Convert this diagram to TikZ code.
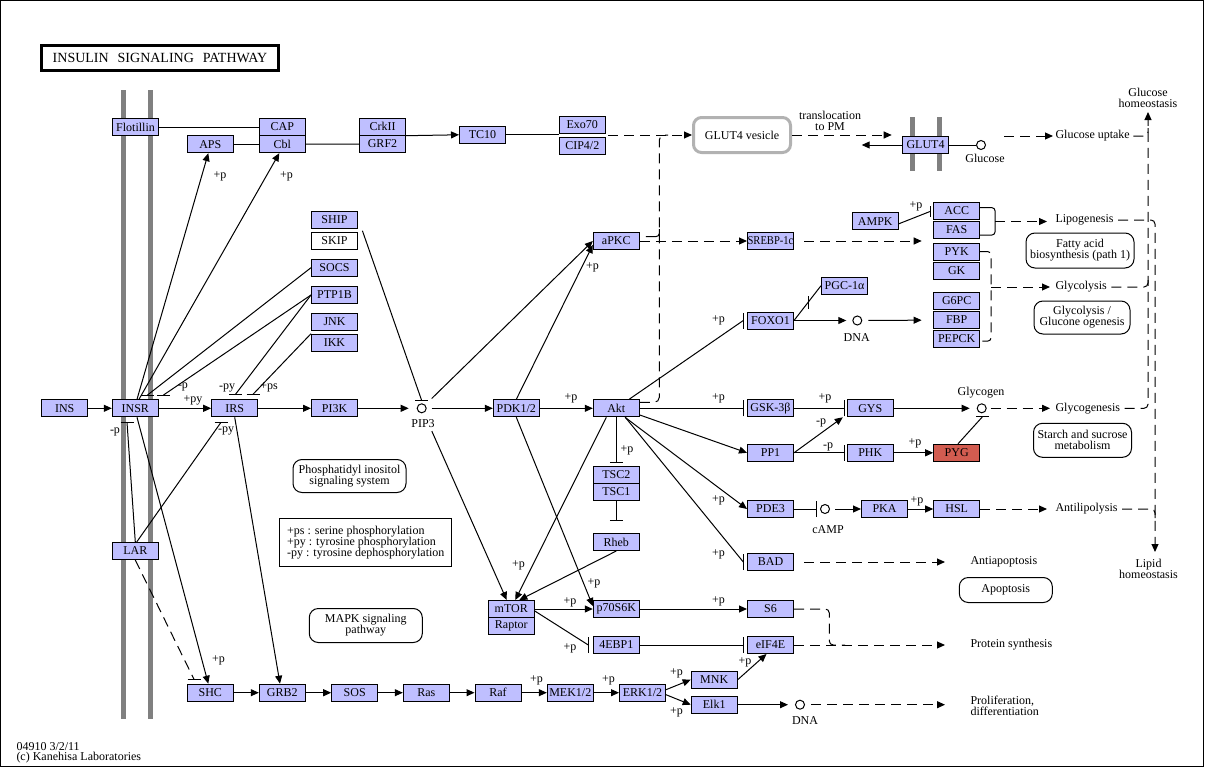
\documentclass[tikz,border=0pt]{standalone}
\usepackage{fontspec}
\usepackage{graphicx}
\setmainfont{Liberation Serif}
\usetikzlibrary{arrows.meta}
\definecolor{genefill}{RGB}{191,191,255}
\definecolor{hitfill}{RGB}{210,92,80}
\definecolor{membrane}{RGB}{128,128,128}
\definecolor{vesgray}{RGB}{178,178,178}
\tikzset{
  gene/.style={draw, fill=genefill, minimum width=46pt, minimum height=17pt, inner sep=0pt},
  cpd/.style={draw, circle, fill=white, minimum size=9pt, inner sep=0pt},
  mapbox/.style={draw, rounded corners=9pt, align=center, inner sep=0pt},
  lbl/.style={inner sep=0pt},
  act/.style={-{Triangle[length=8pt,width=7pt]}},
  dsh/.style={dash pattern=on 10pt off 6pt},
}
\newcommand{\inhh}[1]{\draw ([xshift=-6.5pt]#1) -- ([xshift=6.5pt]#1);}
\newcommand{\inhv}[1]{\draw ([yshift=-8pt]#1) -- ([yshift=8pt]#1);}
\begin{document}
\begin{tikzpicture}[x=1pt, y=-1pt, line width=1pt, font=\fontsize{12}{11}\selectfont]
   \useasboundingbox (0,0) rectangle (1205,768);
   \draw (0.5,0.5) rectangle (1203.5,766.5);
   % title
   \node[draw, line width=2.5pt, minimum width=237pt, minimum height=25pt, inner sep=0pt] (title) at (160,58) {\fontsize{14}{15}\selectfont INSULIN\hspace{9pt}SIGNALING\hspace{9pt}PATHWAY};
   % membranes
   \draw[membrane, line width=5pt] (123.5,90) -- (123.5,719);
   \draw[membrane, line width=5pt] (150.3,90) -- (150.3,719);
   \draw[membrane, line width=5pt] (912.5,117) -- (912.5,171);
   \draw[membrane, line width=5pt] (939.3,117) -- (939.3,171);
   % genes
   \node[gene] (flot) at (135.5,127) {Flotillin};
   \node[gene] (cap) at (282.3,127) {CAP};
   \node[gene] (cbl) at (282.3,144.2) {Cbl};
   \node[gene] (aps) at (210.3,144.2) {APS};
   \node[gene] (crk) at (382.5,126.7) {CrkII};
   \node[gene] (grf) at (382.5,144) {GRF2};
   \node[gene] (tc) at (482.5,134.8) {TC10};
   \node[gene] (exo) at (582.3,125) {Exo70};
   \node[gene] (cip) at (582.3,146) {CIP4/2};
   \node[gene] (glut) at (925.5,145) {GLUT4};
   \node[gene] (ship) at (334.5,220) {SHIP};
   \node[gene, fill=white] (skip) at (334.5,241) {SKIP};
   \node[gene] (socs) at (334.5,267.7) {SOCS};
   \node[gene] (ptp) at (334.5,295) {PTP1B};
   \node[gene] (jnk) at (334.5,321.7) {JNK};
   \node[gene] (ikk) at (334.5,342.7) {IKK};
   \node[gene] (ins) at (64.7,408.3) {INS};
   \node[gene] (insr) at (135.3,408.3) {INSR};
   \node[gene] (irs) at (234.7,408.3) {IRS};
   \node[gene] (pi3k) at (334.5,408.3) {PI3K};
   \node[gene] (pdk) at (516.3,408.3) {PDK1/2};
   \node[gene] (akt) at (616.3,408.3) {Akt};
   \node[gene] (apkc) at (616.3,241) {aPKC};
   \node[gene] (srebp) at (770.5,241) {\scalebox{0.88}[1]{SREBP-1c}};
   \node[gene] (foxo) at (770.5,320.5) {FOXO1};
   \node[gene] (pgc) at (844.5,285.7) {PGC-1α};
   \node[gene] (gsk) at (770.5,408.3) {GSK-3β};
   \node[gene] (gys) at (870.3,408.3) {GYS};
   \node[gene] (pp1) at (770.5,452.8) {PP1};
   \node[gene] (phk) at (870.3,452.8) {PHK};
   \node[gene, fill=hitfill] (pyg) at (956.7,452.8) {PYG};
   \node[gene] (ampk) at (875.3,221.3) {AMPK};
   \node[gene] (acc) at (956.7,211) {ACC};
   \node[gene] (fas) at (956.7,230) {FAS};
   \node[gene] (pyk) at (956.7,252) {PYK};
   \node[gene] (gk) at (956.7,270.7) {GK};
   \node[gene] (g6pc) at (956.7,301) {G6PC};
   \node[gene] (fbp) at (956.7,320) {FBP};
   \node[gene] (pepck) at (956.7,339) {PEPCK};
   \node[gene] (tsc2) at (616.3,475) {TSC2};
   \node[gene] (tsc1) at (616.3,492) {TSC1};
   \node[gene] (rheb) at (616.3,542) {Rheb};
   \node[gene] (pde3) at (770.5,509) {PDE3};
   \node[gene] (pka) at (884.5,509) {PKA};
   \node[gene] (hsl) at (956.7,509) {HSL};
   \node[gene] (bad) at (770.5,562) {BAD};
   \node[gene] (mtor) at (511.3,609) {mTOR};
   \node[gene] (raptor) at (511.3,626) {Raptor};
   \node[gene] (p70) at (616.3,609) {p70S6K};
   \node[gene] (s6) at (770.5,609) {S6};
   \node[gene] (ebp) at (616.3,645) {4EBP1};
   \node[gene] (eif) at (770.5,645) {eIF4E};
   \node[gene] (lar) at (135.3,551) {LAR};
   \node[gene] (shc) at (210.3,692.7) {SHC};
   \node[gene] (grb) at (282.3,692.7) {GRB2};
   \node[gene] (sos) at (354.7,692.7) {SOS};
   \node[gene] (ras) at (426.3,692.7) {Ras};
   \node[gene] (raf) at (498,692.7) {Raf};
   \node[gene] (mek) at (570.3,692.7) {MEK1/2};
   \node[gene] (erk) at (642.5,692.7) {ERK1/2};
   \node[gene] (mnk) at (714.2,679.7) {MNK};
   \node[gene] (elk) at (714.2,704.7) {Elk1};
   % compounds
   \node[cpd] (pip3) at (421.7,408.3) {};
   \node[cpd] (glc) at (981,145) {};
   \node[cpd] (dna1) at (857.3,320.5) {};
   \node[cpd] (glyco) at (981.7,408.3) {};
   \node[cpd] (camp) at (825,509) {};
   \node[cpd] (dna2) at (800,704.7) {};
   \node[lbl] (pip3t) at (423,424) {PIP3};
   \node[lbl] (glct) at (985,158) {Glucose};
   \node[lbl] (dna1t) at (856.7,338) {DNA};
   \node[lbl] (glycot) at (981,393) {Glycogen};
   \node[lbl] (campt) at (828,530) {cAMP};
   \node[lbl] (dna2t) at (805,721) {DNA};
   % maps
   \node[mapbox, minimum width=113pt, minimum height=33pt] (pis) at (349.5,476) {Phosphatidyl inositol\\signaling system};
   \node[mapbox, minimum width=113pt, minimum height=34pt] (mapk) at (365.8,625.5) {MAPK signaling\\pathway};
   \node[mapbox, minimum width=108pt, minimum height=35pt] (fab) at (1080,250.5) {Fatty acid\\biosynthesis (path 1)};
   \node[mapbox, minimum width=96pt, minimum height=33pt] (glyc) at (1082,317.5) {Glycolysis /\\Glucone ogenesis};
   \node[mapbox, minimum width=98pt, minimum height=34pt] (starch) at (1082.5,440.3) {Starch and sucrose\\metabolism};
   \node[mapbox, minimum width=93pt, minimum height=25pt] (apop) at (1005.8,590) {Apoptosis};
   \node[draw=vesgray, line width=3pt, rounded corners=8pt, minimum width=97pt, minimum height=35pt] (vesicle) at (742,135) {GLUT4 vesicle};
   \node[draw, align=left, minimum width=171.7pt, minimum height=47.7pt, inner sep=0pt] (legend) at (365.8,542.2) {+ps : serine phosphorylation\\+py : tyrosine phosphorylation\\-py : tyrosine dephosphorylation};
   % outcomes
   \node[lbl, align=center] (transl) at (830,121) {translocation\\to PM};
   \node[lbl, anchor=west] (uptake) at (1055,136) {Glucose uptake};
   \node[lbl, align=center] (glchomeo) at (1148,98) {Glucose\\homeostasis};
   \node[lbl, anchor=west] (lipo) at (1055,220) {Lipogenesis};
   \node[lbl, anchor=west] (glycolysis) at (1055,287) {Glycolysis};
   \node[lbl, anchor=west] (glycogenesis) at (1055,408.3) {Glycogenesis};
   \node[lbl, anchor=west] (antilip) at (1055,509) {Antilipolysis};
   \node[lbl, align=center] (lipidhomeo) at (1148.5,569) {Lipid\\homeostasis};
   \node[lbl, anchor=west] (antiapop) at (970,562) {Antiapoptosis};
   \node[lbl, anchor=west] (protsyn) at (970,645) {Protein synthesis};
   \node[lbl, anchor=west, align=left] (prolif) at (970,706) {Proliferation,\\differentiation};
   \node[lbl, anchor=west] (mapid) at (16,746.7) {04910 3/2/11};
   \node[lbl, anchor=west] (copy) at (16,757.7) {(c) Kanehisa Laboratories};
   % bar points
   \coordinate (socsbar) at (147.5,395);
   \coordinate (ptpbar) at (163.5,395);
   \coordinate (ptpirsbar) at (235.5,394.3);
   \coordinate (ikkbar) at (253,394.3);
   \coordinate (larinsrbar) at (127,422.3);
   \coordinate (larirsbar) at (221,422.3);
   \coordinate (larshcbar) at (194,679.3);
   \coordinate (pip3bar) at (421.5,400);
   \coordinate (gskbar) at (743.3,408.3);
   \coordinate (gysbar) at (844.3,408.3);
   \coordinate (phkbar) at (844.3,452.8);
   \coordinate (eifbar) at (743.3,645);
   \coordinate (campbar) at (816.7,509);
   \coordinate (foxobar) at (743.3,320.5);
   \coordinate (badbar) at (743.3,562);
   \coordinate (tscbar) at (616.3,462.7);
   \coordinate (rhebbar) at (616.3,520);
   \coordinate (ebpbar) at (588.3,645);
   \coordinate (accbar) at (930,211.5);
   \coordinate (pgcbar) at (808.3,302);
   \coordinate (glybar) at (982.5,416.7);
   \coordinate (exout) at (608,135);
   \coordinate (glutin) at (891.7,135);
   \coordinate (glutout) at (861.7,145);
   \coordinate (uptakein) at (1004,136);
   \coordinate (srebpgrp) at (921.7,241);
   \coordinate (lipojoin) at (995,221.5);
   \coordinate (glyjoin) at (991,287);
   % receptor row
   \draw[act] (ins) -- (insr);
   \draw[act] (insr) -- (irs);
   \draw[act] (irs) -- (pi3k);
   \draw[act, shorten >=8pt] (pi3k) -- (pip3);
   \draw[act, shorten <=5pt] (pip3) -- (pdk);
   \draw[act] (pdk) -- (akt);
   \draw[act] ([xshift=1.7pt]insr.north) -- ([xshift=-2pt]aps.south);
   \draw[act] ([xshift=3.7pt]insr.north) -- ([xshift=-3pt]cbl.south);
   \draw (flot) -- (cap);
   \draw (aps) -- (cbl);
   \draw (cbl) -- (grf);
   \draw[act] (crk.south east) -- (tc.west);
   \draw (tc.east) -- (tc.east -| exo.west);
   \draw[dsh, act] (exout) -- (vesicle.west);
   \draw[dsh, rounded corners=5pt] ([yshift=6pt]akt.east) -- (659.3,402.3) -- (659.3,135) -- (668,135);
   \draw[rounded corners=3pt] ([shift={(6pt,4.5pt)}]apkc.east) -- (659.3,236.5) -- (659.3,229);
   \draw[dsh, act] (vesicle.east) -- (glutin);
   \draw[act] (glut.west) -- (glutout);
   \draw (glut) -- (glc);
   \draw[dsh, act, shorten >=2pt] (uptakein) -- (uptake.west);
   % inhibitions at the membrane
   \draw (socs.west) -- (socsbar); \inhh{socsbar}
   \draw (ptp.west) -- (ptpbar); \inhh{ptpbar}
   \draw (ptp.west) -- (ptpirsbar); \inhh{ptpirsbar}
   \draw (ikk.north west) -- (ikkbar); \inhh{ikkbar}
   \draw (lar.north) -- (larinsrbar); \inhh{larinsrbar}
   \draw ([xshift=1.4pt]lar.north) -- (larirsbar); \inhh{larirsbar}
   \draw[dsh] (lar.south) -- (larshcbar); \inhh{larshcbar}
   \draw ([shift={(4.4pt,-1.7pt)}]ship.south east) -- (pip3bar); \inhh{pip3bar}
   % PI3K / Akt branch
   \draw[act, shorten <=9pt] (pip3) -- (apkc.west);
   \draw[act] (pdk.north) -- ([yshift=-4pt]apkc.west);
   \draw[act, shorten <=20pt] (pip3) -- ([xshift=-4.6pt]mtor.north);
   \draw[act] (pdk.south) -- ([yshift=3pt]p70.west);
   \draw[act] ([xshift=-10pt]akt.south) -- ([xshift=4pt]mtor.north);
   \draw[act] (rheb.south) -- ([xshift=8pt]mtor.north);
   \draw[act] (mtor.east) -- (p70.west);
   \draw ([yshift=-2pt]mtor.east) -- (ebpbar); \inhv{ebpbar}
   \draw (akt.south) -- (tscbar); \inhh{tscbar}
   \draw (tsc1) -- (rhebbar); \inhh{rhebbar}
   \draw[dsh, act] (apkc) -- (srebp);
   \draw[dsh, act, shorten <=10pt] (srebp.east) -- (srebpgrp);
   \draw ([xshift=12.8pt]akt.north) -- (foxobar); \inhv{foxobar}
   \draw (akt) -- (gskbar); \inhv{gskbar}
   \draw (gsk) -- (gysbar); \inhv{gysbar}
   \draw[act] ([yshift=-6.7pt]akt.east) -- (pp1.west);
   \draw[act] (pp1.east) -- ([xshift=-4pt]gys.south west);
   \draw (pp1) -- (phkbar); \inhv{phkbar}
   \draw[act] (phk) -- (pyg);
   \draw[act] ([xshift=8.7pt]akt.south) -- (pde3.west);
   \draw ([xshift=9pt]akt.south) -- (badbar); \inhv{badbar}
   \draw (pde3) -- (campbar); \inhv{campbar}
   \draw[act, shorten <=5pt] (camp) -- (pka);
   \draw[act] (pka) -- (hsl);
   \draw[act, shorten >=6pt] (foxo) -- (dna1);
   \draw[act, shorten <=6pt, shorten >=11.6pt] (dna1) -- (fbp);
   \draw (foxo.east) -- (pgc.west);
   \draw ([yshift=-6.5pt]pgcbar) -- ([yshift=6.5pt]pgcbar);
   \draw ([yshift=-2.5pt]ampk.east) -- (accbar);
   \draw ([yshift=-5.5pt]accbar) -- ([yshift=5.5pt]accbar);
   \draw[act, shorten >=7pt] (gys) -- (glyco);
   \draw ([xshift=1.3pt]pyg.north) -- (glybar); \inhh{glybar}
   \draw[act] (p70) -- (s6);
   \draw (ebp) -- (eifbar); \inhv{eifbar}
   \draw[act] (mnk.east) -- ([xshift=-4pt]eif.south);
   \draw[act] ([yshift=3pt]erk.east) -- (mnk.west);
   \draw[act] ([yshift=-2pt]erk.east) -- (elk.west);
   \draw[act, shorten >=7pt] (elk) -- (dna2);
   % MAPK row
   \draw[act] ([xshift=1.7pt]insr.south) -- ([xshift=-2pt]shc.north);
   \draw[act] (irs.south) -- ([xshift=-2.3pt]grb.north);
   \draw[act] (shc) -- (grb);
   \draw[act] (grb) -- (sos);
   \draw[act] (sos) -- (ras);
   \draw[act] (ras) -- (raf);
   \draw[act] (raf) -- (mek);
   \draw[act] (mek) -- (erk);
   % metabolic outputs
   \draw[rounded corners=3pt] ([yshift=3.3pt]acc.east) -- (995,207.7) -- (995,235) -- ([yshift=-5pt]fas.east);
   \draw[dsh, act, shorten >=8pt] (lipojoin) -- (lipojoin -| lipo.west);
   \draw[dsh, rounded corners=3pt] ([yshift=0.3pt]pyk.east) -- (991,251.7) -- (991,341) -- ([yshift=-2pt]pepck.east);
   \draw[dsh, act, shorten >=5pt] (glyjoin) -- (glycolysis.west);
   \draw[dsh, act, shorten <=4pt, shorten >=5pt] (glyco) -- (glycogenesis.west);
   \draw[dsh, act, shorten >=8pt] (hsl) -- (antilip.west);
   \draw[dsh, act, shorten <=10pt, shorten >=25pt] (bad.east) -- (antiapop.west);
   \draw[dsh, rounded corners=4pt] (s6.east) -- (829.3,609) -- (829.3,645) -- (845,645);
   \draw[dsh, act, shorten >=25pt] (eif.east) -- (eif.east -| protsyn.west);
   \draw[dsh, act, shorten <=6pt, shorten >=25pt] (dna2) -- (dna2 -| prolif.west);
   \draw[dsh, act, rounded corners=4pt] ([xshift=4pt]glycogenesis.east) -- (1148,408.3) -- (1148,112);
   \draw[dsh, rounded corners=4pt] ([xshift=3pt]uptake.east) -- (1148,136) -- (1148,128);
   \draw[dsh, rounded corners=4pt] ([xshift=4pt]glycolysis.east) -- (1148,287) -- (1148,280);
   \draw[dsh, act, rounded corners=4pt] ([xshift=4pt]lipo.east) -- (1155,220) -- (1155,552);
   \draw[dsh, rounded corners=4pt] ([xshift=4pt]antilip.east) -- (1155,509) -- (1155,518);
   % modification labels
   \node[lbl] (pl1) at (193,400) {+py};
   \node[lbl] (pl2) at (183,387) {-p};
   \node[lbl] (pl3) at (227,388) {-py};
   \node[lbl] (pl4) at (269,387) {+ps};
   \node[lbl] (pl5) at (115,432) {-p};
   \node[lbl] (pl6) at (226,431) {-py};
   \node[lbl] (pl7) at (220,176) {+p};
   \node[lbl] (pl8) at (286.5,176) {+p};
   \node[lbl] (pl9) at (592.5,267) {+p};
   \node[lbl] (pl10) at (571,398) {+p};
   \node[lbl] (pl11) at (627,450) {+p};
   \node[lbl] (pl12) at (718.5,320) {+p};
   \node[lbl] (pl13) at (718.5,398) {+p};
   \node[lbl] (pl14) at (825,398) {+p};
   \node[lbl] (pl15) at (821,423) {-p};
   \node[lbl] (pl16) at (828,447) {-p};
   \node[lbl] (pl17) at (915,443) {+p};
   \node[lbl] (pl18) at (916,206) {+p};
   \node[lbl] (pl19) at (718.5,500) {+p};
   \node[lbl] (pl20) at (718.5,554) {+p};
   \node[lbl] (pl21) at (917,501) {+p};
   \node[lbl] (pl22) at (718.5,601.5) {+p};
   \node[lbl] (pl23) at (745,662.5) {+p};
   \node[lbl] (pl24) at (676.5,673) {+p};
   \node[lbl] (pl25) at (676.5,712) {+p};
   \node[lbl] (pl26) at (608.5,680) {+p};
   \node[lbl] (pl27) at (536.5,680) {+p};
   \node[lbl] (pl28) at (570,602) {+p};
   \node[lbl] (pl29) at (570,648) {+p};
   \node[lbl] (pl30) at (518.5,565) {+p};
   \node[lbl] (pl31) at (594,583) {+p};
   \node[lbl] (pl32) at (218.5,660.5) {+p};
\end{tikzpicture}
\end{document}
